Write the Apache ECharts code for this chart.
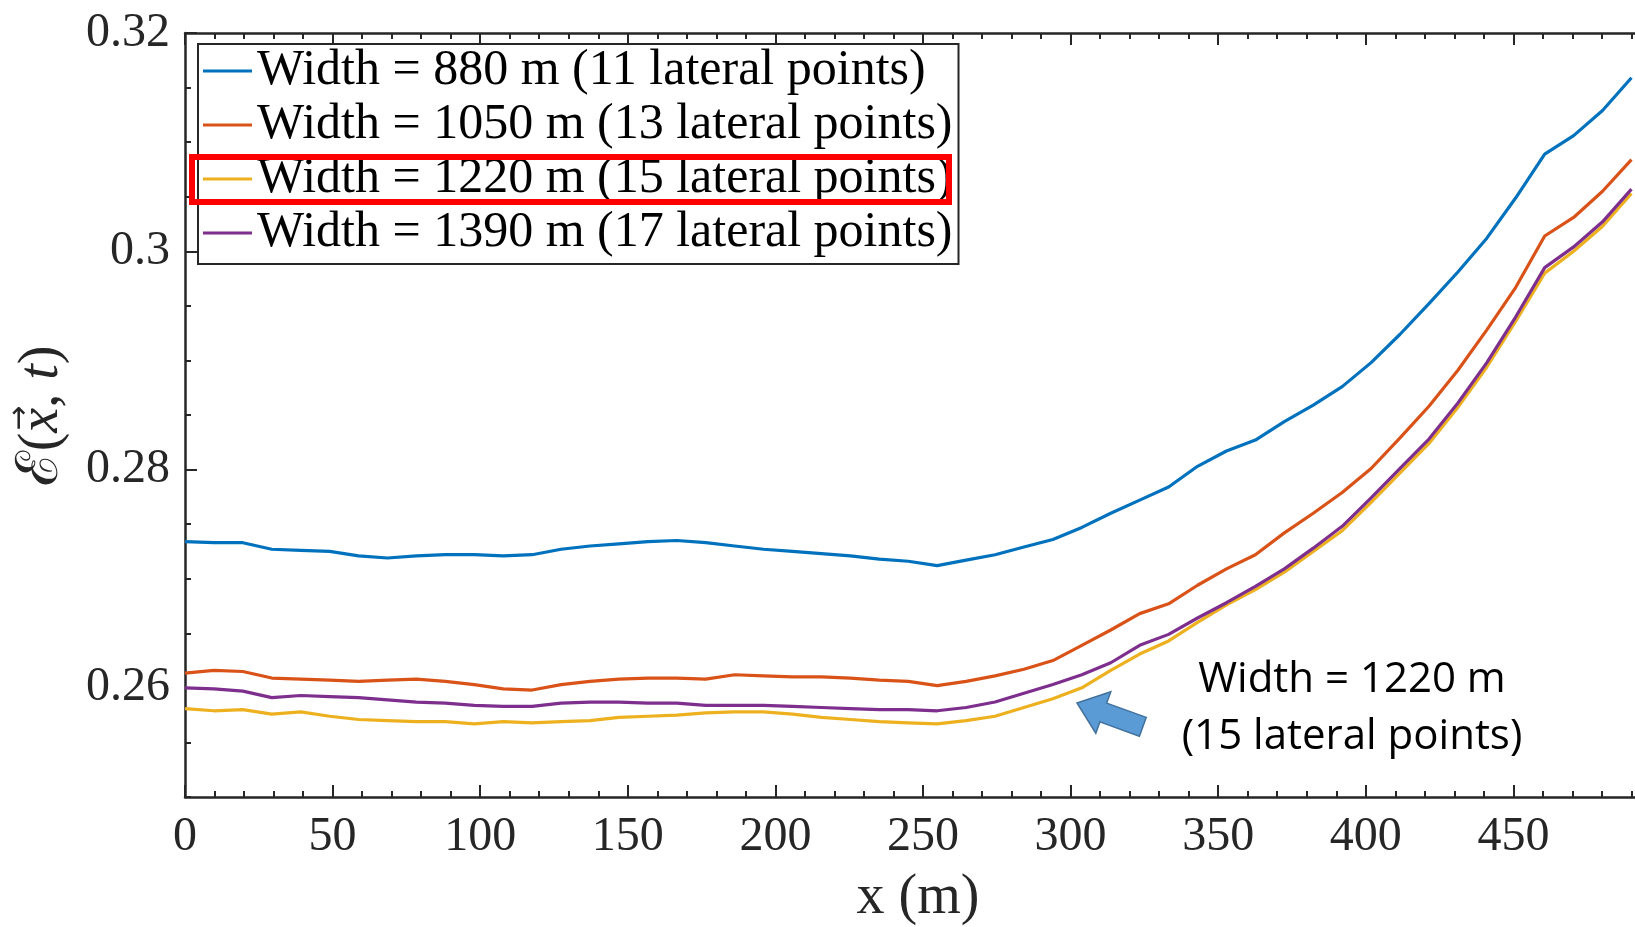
<!DOCTYPE html>
<html>
<head>
<meta charset="utf-8">
<script src="https://cdn.jsdelivr.net/npm/echarts@6/dist/echarts.min.js"></script>
<style>
html,body{margin:0;padding:0;background:#fff;}
#chart{width:1635px;height:927px;}
</style>
</head>
<body>
<div id="chart"></div>
<script>
// ---- data ----
const xValues = [0, 9.8, 19.6, 29.4, 39.2, 49, 58.8, 68.6, 78.4, 88.2, 98, 107.8, 117.6, 127.4, 137.2, 147, 156.8, 166.6, 176.4, 186.2, 196, 205.8, 215.6, 225.4, 235.2, 245, 254.8, 264.6, 274.4, 284.2, 294, 303.8, 313.6, 323.4, 333.2, 343, 352.8, 362.6, 372.4, 382.2, 392, 401.8, 411.6, 421.4, 431.2, 441, 450.8, 460.6, 470.4, 480.2, 490];

const width880 = [0.2734, 0.2733, 0.2733, 0.2727, 0.2726, 0.2725, 0.2721, 0.2719, 0.2721, 0.2722, 0.2722, 0.2721, 0.2722, 0.2727, 0.2730, 0.2732, 0.2734, 0.2735, 0.2733, 0.2730, 0.2727, 0.2725, 0.2723, 0.2721, 0.2718, 0.2716, 0.2712, 0.2717, 0.2722, 0.2729, 0.2736, 0.2747, 0.2760, 0.2772, 0.2784, 0.2803, 0.2817, 0.2827, 0.2844, 0.2859, 0.2876, 0.2898, 0.2924, 0.2952, 0.2981, 0.3012, 0.3049, 0.3089, 0.3106, 0.3129, 0.3159];

const width1050 = [0.26135, 0.2616, 0.2615, 0.2609, 0.2608, 0.2607, 0.2606, 0.2607, 0.2608, 0.2606, 0.2603, 0.2599, 0.2598, 0.2603, 0.2606, 0.2608, 0.2609, 0.2609, 0.2608, 0.2612, 0.2611, 0.2610, 0.2610, 0.2609, 0.2607, 0.2606, 0.2602, 0.2606, 0.2611, 0.2617, 0.2625, 0.2639, 0.2653, 0.2668, 0.2677, 0.2694, 0.2709, 0.2722, 0.2742, 0.2760, 0.2779, 0.2801, 0.2829, 0.2858, 0.2891, 0.2928, 0.2967, 0.3014, 0.3031, 0.3055, 0.3084];

const width1220 = [0.2581, 0.2579, 0.2580, 0.2576, 0.2578, 0.2574, 0.2571, 0.2570, 0.2569, 0.2569, 0.2567, 0.2569, 0.2568, 0.2569, 0.2570, 0.2573, 0.2574, 0.2575, 0.2577, 0.2578, 0.2578, 0.2576, 0.2573, 0.2571, 0.2569, 0.2568, 0.2567, 0.2570, 0.2574, 0.2582, 0.2590, 0.2600, 0.2616, 0.2631, 0.2643, 0.2660, 0.2676, 0.2690, 0.2706, 0.2725, 0.2744, 0.2770, 0.2797, 0.2824, 0.2857, 0.2894, 0.2936, 0.2980, 0.3000, 0.3023, 0.3053];

const width1390 = [0.2600, 0.2599, 0.2597, 0.2591, 0.2593, 0.2592, 0.2591, 0.2589, 0.2587, 0.2586, 0.2584, 0.2583, 0.2583, 0.2586, 0.2587, 0.2587, 0.2586, 0.2586, 0.2584, 0.2584, 0.2584, 0.2583, 0.2582, 0.2581, 0.2580, 0.2580, 0.2579, 0.2582, 0.2587, 0.2595, 0.2603, 0.2612, 0.2623, 0.2639, 0.2649, 0.2664, 0.2678, 0.2693, 0.2709, 0.2728, 0.2748, 0.2774, 0.2801, 0.2828, 0.2861, 0.2898, 0.2940, 0.2985, 0.3004, 0.3027, 0.3057];

const seriesNames = [
  'Width = 880 m (11 lateral points)',
  'Width = 1050 m (13 lateral points)',
  'Width = 1220 m (15 lateral points)',
  'Width = 1390 m (17 lateral points)'
];
const seriesColors = ['#0072BD', '#D95319', '#EDB120', '#7E2F8E'];
const yMajorTicks = [0.26, 0.28, 0.30, 0.32];
const annotationLines = ['Width = 1220 m', '(15 lateral points)'];
const yNameParts = ['ℰ', '(', 'x', ', ', 't', ')'];
const xNameText = 'x (m)';

// ---- chart ----
const SERIF = '"Liberation Serif", "DejaVu Serif", serif';
const AX = '#262626';
const chart = echarts.init(document.getElementById('chart'), null, {renderer: 'canvas'});

function pairs(arr) { return xValues.map((x, i) => [x, arr[i]]); }
const allSeries = [width880, width1050, width1220, width1390];

const xMinor = (pos, extra) => Object.assign({
  type: 'value', min: 0, max: 500, interval: 10, position: pos, gridIndex: 0,
  axisLine: {show: true, onZero: false, lineStyle: {color: AX, width: 2.5}},
  axisTick: {show: true, inside: true, length: 6, lineStyle: {color: AX, width: 2}},
  axisLabel: {show: false},
  splitLine: {show: false}
}, extra || {});
const xMajor = (pos) => ({
  type: 'value', min: 0, max: 500, interval: 50, position: pos, gridIndex: 0,
  axisLine: {show: false, onZero: false},
  axisTick: {show: true, inside: true, length: 12, lineStyle: {color: AX, width: 2}},
  axisLabel: {show: false},
  splitLine: {show: false}
});
const yMinor = (pos, extra) => Object.assign({
  type: 'value', min: 0.25, max: 0.32, interval: 0.005, position: pos, gridIndex: 0,
  axisLine: {show: true, onZero: false, lineStyle: {color: AX, width: 2.5}},
  axisTick: {show: true, inside: true, length: 6, lineStyle: {color: AX, width: 2}},
  axisLabel: {show: false},
  splitLine: {show: false}
}, extra || {});
const yMajor = (pos) => ({
  type: 'value', min: 0.25, max: 0.32, position: pos, gridIndex: 0,
  axisLine: {show: false, onZero: false},
  axisTick: {show: true, inside: true, length: 12, customValues: yMajorTicks, lineStyle: {color: AX, width: 2}},
  axisLabel: {show: false},
  splitLine: {show: false}
});

// y-axis name built from text pieces (rotated), with a vector arrow over x
const measureCtx = document.createElement('canvas').getContext('2d');
const nameFonts = [
  '58px "DejaVu Serif", serif',
  '56px "Liberation Serif", serif',
  'italic 56px "Liberation Serif", serif',
  '56px "Liberation Serif", serif',
  'italic 56px "Liberation Serif", serif',
  '56px "Liberation Serif", serif'
];
const widths = yNameParts.map((t, i) => { measureCtx.font = nameFonts[i]; return measureCtx.measureText(t).width; });
const totalW = widths.reduce((a, b) => a + b, 0);
let cursor = -totalW / 2;
const nameChildren = [];
let xCenter = 0;
yNameParts.forEach((t, i) => {
  nameChildren.push({type: 'text', x: cursor, y: 0,
    style: {text: t, font: nameFonts[i], fill: AX, textAlign: 'left', textVerticalAlign: 'middle'}});
  if (i === 2) xCenter = cursor + widths[i] / 2;
  cursor += widths[i];
});
nameChildren.push({type: 'text', x: xCenter + 2, y: -22,
  style: {text: '\u2192', font: '30px "DejaVu Sans", sans-serif', fill: AX, textAlign: 'center', textVerticalAlign: 'middle'}});

const option = {
  backgroundColor: '#ffffff',
  animation: false,
  grid: {left: 185, top: 33, width: 1476, height: 764, containLabel: false, outerBoundsMode: 'none'},
  xAxis: [
    xMinor('bottom', {
      axisLabel: {
        show: true, margin: 16, color: AX, fontFamily: SERIF, fontSize: 48,
        formatter: v => (Math.round(v) % 50 === 0 && v < 500) ? String(Math.round(v)) : ''
      }
    }),
    xMajor('bottom'),
    xMinor('top'),
    xMajor('top')
  ],
  yAxis: [
    yMinor('left', {
      axisLabel: {
        show: true, margin: 15, color: AX, fontFamily: SERIF, fontSize: 48,
        formatter: v => { const k = Math.round(v * 1000); return (k >= 260 && k % 20 === 0) ? String(k / 1000) : ''; }
      }
    }),
    yMajor('left'),
    yMinor('right'),
    yMajor('right')
  ],
  legend: {
    show: true, orient: 'vertical', left: 198, top: 44,
    data: seriesNames,
    icon: 'rect',
    itemWidth: 49, itemHeight: 3, itemGap: 0,
    padding: [0, 6, 4, 5],
    backgroundColor: '#ffffff', borderColor: AX, borderWidth: 2, borderRadius: 0,
    textStyle: {fontFamily: SERIF, fontSize: 50, color: '#000', lineHeight: 54},
    z: 10
  },
  series: allSeries.map((arr, k) => ({
    name: seriesNames[k], type: 'line', xAxisIndex: 0, yAxisIndex: 0,
    data: pairs(arr), symbol: 'none', showSymbol: false, clip: true,
    lineStyle: {color: seriesColors[k], width: 3.2},
    itemStyle: {color: seriesColors[k]},
    z: 3
  })),
  graphic: [
    {type: 'group', x: 42, y: 416, rotation: Math.PI / 2, z: 100, children: nameChildren},
    {type: 'text', z: 100, x: 918, y: 898,
     style: {text: xNameText, font: '56px "Liberation Serif", serif', fill: AX, textAlign: 'center', textVerticalAlign: 'middle'}},
    {type: 'rect', z: 100, shape: {x: 192, y: 157, width: 757, height: 45},
     style: {fill: 'none', stroke: '#ff0000', lineWidth: 6}},
    {type: 'polygon', z: 100,
     shape: {points: [[1077, 703], [1110.8, 691.8], [1106.7, 703.1], [1146.2, 717.4], [1139.4, 736.2], [1099.9, 721.9], [1095.8, 733.2]]},
     style: {fill: '#5B9BD5', stroke: '#41719C', lineWidth: 1.5}},
    {type: 'text', z: 100, x: 1352, y: 680,
     style: {text: annotationLines[0], font: '42px "Open Sans", "Noto Sans", sans-serif', fill: '#000', textAlign: 'center', textVerticalAlign: 'middle'}},
    {type: 'text', z: 100, x: 1352, y: 737,
     style: {text: annotationLines[1], font: '42px "Open Sans", "Noto Sans", sans-serif', fill: '#000', textAlign: 'center', textVerticalAlign: 'middle'}}
  ]
};
chart.setOption(option);
</script>
</body>
</html>
